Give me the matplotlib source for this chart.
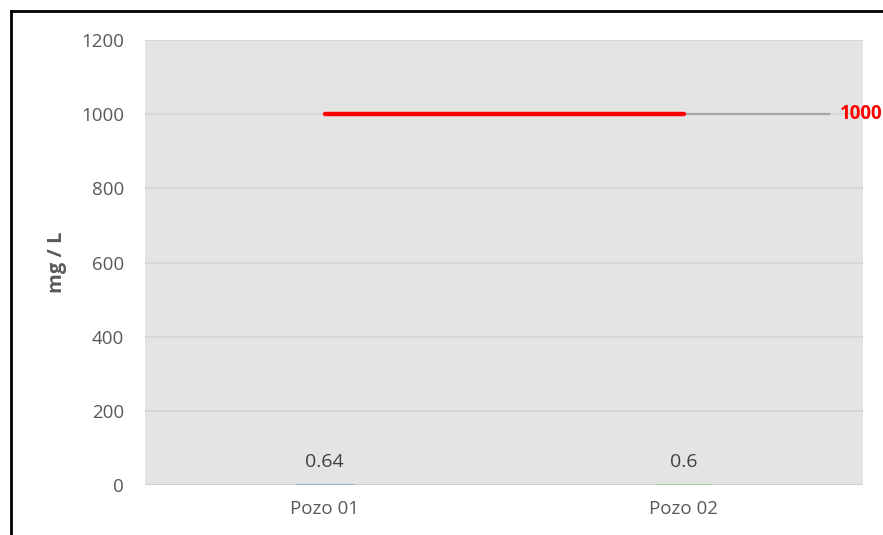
import matplotlib.pyplot as plt
from matplotlib.lines import Line2D

# datos
pozos = ["Pozo 01", "Pozo 02"]
valores = [0.64, 0.6]
colores = ["#8faadc", "#a9d18e"]
limite = 1000
etiquetas_y = [0, 200, 400, 600, 800, 1000, 1200]

plt.rcParams['font.family'] = ['Open Sans', 'DejaVu Sans']

fig = plt.figure(figsize=(8.83, 5.35), dpi=100)
ax = fig.add_axes([145/883, 1 - 485/535, 718/883, 445/535])
ax.set_facecolor("#e4e4e4")

x = list(range(len(pozos)))
ax.bar(x, valores, width=0.165, color=colores, edgecolor=colores, linewidth=2, zorder=3)

for xi, v in zip(x, valores):
    ax.annotate(f"{v:g}", (xi, v), xytext=(0, 10), textcoords="offset points",
                ha="center", va="bottom", fontsize=14, color="#404040")

# linea de limite
ax.plot([0, 1], [limite, limite], color="red", linewidth=3.2, solid_capstyle="round", zorder=4)
ax.plot([1, 1.405], [limite, limite], color="#a6a6a6", linewidth=1.6, zorder=3)
ax.text(1.435, limite, f"{limite}", color="red", fontweight="bold", fontsize=13.5,
        va="center", ha="left", clip_on=False)

ax.set_xlim(-0.5, 1.5)
ax.set_ylim(0, 1200)
ax.set_yticks(etiquetas_y)
ax.set_xticks(x)
ax.set_xticklabels(pozos)
ax.tick_params(axis="both", length=0, labelsize=13.5, labelcolor="#595959")
ax.tick_params(axis="y", pad=15)
ax.tick_params(axis="x", pad=11)
ax.grid(axis="y", color="#d6d6d6", linewidth=1.5, zorder=0)
ax.set_axisbelow(True)
for s in ax.spines.values():
    s.set_visible(False)
ax.axhline(0, color="#d0d0d0", linewidth=1.5, zorder=2)

ax.set_ylabel("mg / L", fontsize=14.5, fontweight="bold", color="#595959", labelpad=10)

# marco negro del grafico (recortado)
fig.add_artist(Line2D([11/883, 11/883], [0, 1 - 11/535], color="black", linewidth=2, transform=fig.transFigure))
fig.add_artist(Line2D([11/883, 1], [1 - 11/535, 1 - 11/535], color="black", linewidth=2, transform=fig.transFigure))

plt.savefig("out.png", dpi=100)
